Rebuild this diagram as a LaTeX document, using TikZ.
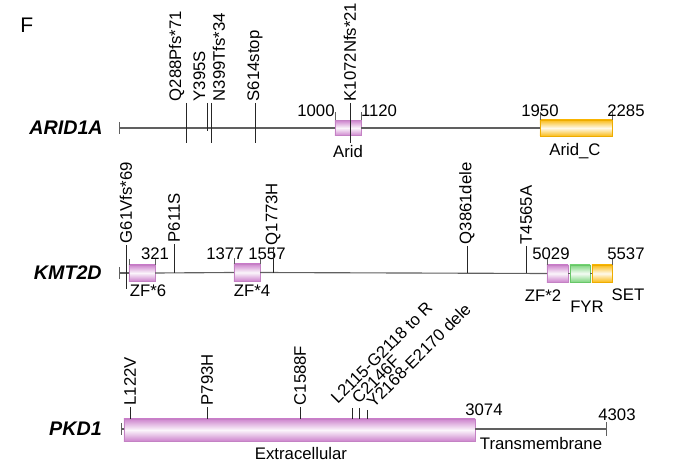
\documentclass[tikz,border=0pt]{standalone}
\usepackage{fontspec}
\setmainfont{Liberation Sans}

\definecolor{pinkF}{RGB}{206,134,206}
\definecolor{pinkE}{RGB}{196,130,196}
\definecolor{greenF}{RGB}{128,214,128}
\definecolor{greenE}{RGB}{104,198,104}
\definecolor{goldF}{RGB}{250,188,24}
\definecolor{goldE}{RGB}{238,172,0}
\definecolor{axisgray}{RGB}{96,96,96}

\begin{document}
\begin{tikzpicture}[x=0.025cm, y=-0.025cm,
  lbl/.style={font=\fontsize{11.9}{13}\selectfont, inner sep=0pt},
  num/.style={lbl, anchor=base},
  gene/.style={font=\fontsize{14}{16}\selectfont\bfseries\itshape, anchor=east, inner sep=0pt},
  mut/.style={lbl, rotate=90, anchor=west, inner sep=1pt},
  dmut/.style={lbl, rotate=45, anchor=south west},
  backbone/.style={draw=axisgray, line width=0.8pt},
  mutline/.style={draw=black!85, line width=0.5pt},
  endtick/.style={draw=axisgray, line width=0.6pt},
  dom/.style={rectangle, inner sep=0pt, outer sep=0pt, line width=0.6pt},
  pinkdom/.style={dom, draw=pinkE, top color=pinkF, bottom color=pinkF, middle color=pinkF!8},
  greendom/.style={dom, draw=greenE, top color=greenF, bottom color=greenF, middle color=greenF!8},
  golddom/.style={dom, draw=goldE, top color=goldF, bottom color=goldF, middle color=goldF!8}
]
\useasboundingbox (0,0) rectangle (680,472);

\node[font=\fontsize{15}{17}\selectfont, anchor=base west, inner sep=0pt] (panel) at (20,33) {F};

% ARID1A
\node[gene] (g1) at (103,128) {ARID1A};
\coordinate (a0) at (119,128);
\node[pinkdom, minimum width=0.65cm, minimum height=0.375cm] (arid) at (348,128) {};
\node[golddom, minimum width=1.8cm, minimum height=0.4cm] (aridc) at (576,128) {};
\draw[backbone] (a0) -- (arid.west);
\draw[backbone] (arid.east) -- (aridc.west);
\draw[endtick] (a0) ++(0,-6) -- ++(0,12);
\draw[endtick] (arid.north west) -- ++(0,-8);
\draw[endtick] (arid.north east) -- ++(0,-8);
\draw[endtick] (aridc.north west) -- ++(0,-8);
\draw[endtick] (aridc.north east) -- ++(0,-8);
\node[num] (n1000) at (316,117) {1000};
\node[num] (n1120) at (379,117) {1120};
\node[num] (n1950) at (540,117) {1950};
\node[num] (n2285) at (626,117) {2285};
\node[num] (larid) at (348,158) {Arid};
\node[num] (laridc) at (575,156) {Arid\_C};

\node[mut, anchor=south west] (q288) at (186,103) {Q288Pfs*71};
\node[mut, anchor=south west] (y395) at (207,103) {Y395S};
\node[mut, anchor=north west] (n399) at (211,103) {N399Tfs*34};
\node[mut] (s614) at (255,103) {S614stop};
\node[mut] (k1072) at (350,103) {K1072Nfs*21};
\coordinate (q288e) at (186,143);
\coordinate (y395e) at (207,131);
\coordinate (n399e) at (211,143);
\coordinate (s614e) at (255,143);
\coordinate (k1072e) at (350,143);
\draw[mutline] (q288.south west) -- (q288e);
\draw[mutline] (y395.south west) -- (y395e);
\draw[mutline] (n399.north west) -- (n399e);
\draw[mutline] (s614) -- (s614e);
\draw[mutline] (k1072.west) -- (k1072e);

% KMT2D
\node[gene] (g2) at (102,273) {KMT2D};
\coordinate (k0) at (119,273);
\node[pinkdom, minimum width=0.65cm, minimum height=0.4cm] (zf6) at (142,273) {};
\node[pinkdom, minimum width=0.65cm, minimum height=0.425cm] (zf4) at (247,272.5) {};
\node[pinkdom, minimum width=0.525cm, minimum height=0.425cm] (zf2) at (557.5,273.5) {};
\node[greendom, minimum width=0.5cm, minimum height=0.425cm] (fyr) at (580,273.5) {};
\node[golddom, minimum width=0.5cm, minimum height=0.425cm] (set) at (602,273.5) {};
\draw[backbone] (k0) -- (zf6.west);
\draw[backbone] (zf6.east) -- (zf4.west);
\draw[backbone] (zf4.east) -- (zf2.west);
\draw[backbone] (zf2.east) -- (fyr.west);
\draw[backbone] (fyr.east) -- (set.west);
\draw[endtick] (k0) ++(0,-6) -- ++(0,12);
\draw[endtick] (zf6.north west) -- ++(0,-6);
\draw[endtick] (zf6.north east) -- ++(0,-6);
\draw[endtick] (zf4.north west) -- ++(0,-6);
\draw[endtick] (zf4.north east) -- ++(0,-6);
\draw[endtick] (zf2.north west) -- ++(0,-7);
\draw[endtick] (set.north east) -- ++(0,-7);
\node[num] (n321) at (155,260) {321};
\node[num] (n1377) at (225,260) {1377};
\node[num] (n1557) at (267,260) {1557};
\node[num] (n5029) at (551,260) {5029};
\node[num] (n5537) at (626,260) {5537};
\node[num] (lzf6) at (148,297) {ZF*6};
\node[num] (lzf4) at (252,297) {ZF*4};
\node[num] (lzf2) at (543,302) {ZF*2};
\node[num] (lfyr) at (587,313) {FYR};
\node[num] (lset) at (628,301) {SET};

\node[mut] (g61) at (126,245) {G61Vfs*69};
\node[mut] (p611) at (174,244) {P611S};
\node[mut] (q1773) at (273,247) {Q1773H};
\node[mut] (q3861) at (467,246) {Q3861dele};
\node[mut] (t4565) at (526,246) {T4565A};
\coordinate (g61e) at (126,289);
\coordinate (p611e) at (174,273);
\coordinate (q1773e) at (273,273);
\coordinate (q3861e) at (467,273);
\coordinate (t4565e) at (526,273);
\draw[mutline] (g61) -- (g61e);
\draw[mutline] (p611) -- (p611e);
\draw[mutline] (q1773) -- (q1773e);
\draw[mutline] (q3861) -- (q3861e);
\draw[mutline] (t4565) -- (t4565e);

% PKD1
\node[gene] (g3) at (102,429) {PKD1};
\coordinate (p0) at (121,429);
\coordinate (p1) at (606,429);
\node[pinkdom, minimum width=8.775cm, minimum height=0.55cm] (extra) at (299.5,430) {};
\draw[backbone] (p0) -- (extra.west |- p0);
\draw[backbone] (extra.east |- p1) -- (p1);
\draw[endtick] (p0) ++(0,-6) -- ++(0,12);
\draw[endtick] (p1) ++(0,-7) -- ++(0,14);
\node[num] (n3074) at (484,416) {3074};
\node[num] (n4303) at (617,421) {4303};
\node[num] (lextra) at (301,460) {Extracellular};
\node[num] (ltrans) at (541,450) {Transmembrane};

\node[mut] (l122) at (130,407) {L122V};
\node[mut] (p793) at (207,407) {P793H};
\node[mut] (c1588) at (300,407) {C1588F};
\node[dmut] (l2115) at (338,405) {L2115-G2118 to R};
\node[dmut] (c2146) at (359,405) {C2146F};
\node[dmut] (y2168) at (374,409) {Y2168-E2170 dele};
\coordinate (l122e) at (130,419);
\coordinate (p793e) at (207,419);
\coordinate (c1588e) at (300,419);
\coordinate (l2115s) at (352,408);
\coordinate (c2146s) at (359,408);
\coordinate (y2168s) at (367,410);
\draw[mutline] (l122) -- (l122e);
\draw[mutline] (p793) -- (p793e);
\draw[mutline] (c1588) -- (c1588e);
\draw[mutline] (l2115s) -- ++(0,11);
\draw[mutline] (c2146s) -- ++(0,11);
\draw[mutline] (y2168s) -- ++(0,9);

\end{tikzpicture}
\end{document}
